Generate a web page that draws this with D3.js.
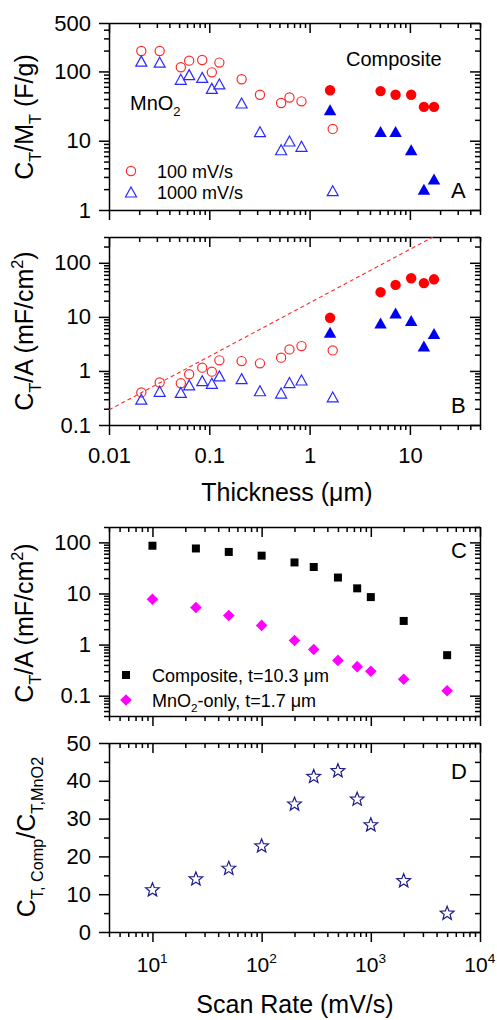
<!DOCTYPE html>
<html>
<head>
<meta charset="utf-8">
<script src="https://cdn.jsdelivr.net/npm/d3@7"></script>
<style>
  body { margin: 0; background: #fff; }
  text { font-family: "Liberation Sans", Arial, sans-serif; }
</style>
</head>
<body>
<script>
// thickness of the MnO2-only films and of the composite films (um)
var mno2Thick = [0.021, 0.032, 0.052, 0.063, 0.085, 0.106, 0.126, 0.21, 0.32, 0.52, 0.63, 0.83, 1.7];
var compThick = [1.6, 5.1, 7.2, 10.3, 13.8, 17.4];

// panel A : C_T / M_T (F/g)
var mno2Mass100 = [197, 197, 115, 143, 146, 97, 134, 77, 46, 35, 42, 37, 14.8];
var mno2Mass1000 = [141, 136, 77, 90, 82, 57, 66, 35, 13.5, 7.4, 9.9, 8.3, 1.9];
var compMass100 = [53.5, 52, 46, 46, 30.8, 30.8];
var compMass1000 = [28, 13.6, 13.6, 7.4, 2.0, 2.8];

// panel B : C_T / A (mF/cm2)
var mno2Area100 = [0.40, 0.61, 0.59, 0.87, 1.15, 0.97, 1.57, 1.52, 1.38, 1.76, 2.5, 2.88, 2.4];
var mno2Area1000 = [0.30, 0.42, 0.40, 0.55, 0.66, 0.59, 0.81, 0.72, 0.43, 0.39, 0.61, 0.68, 0.33];
var compArea100 = [9.6, 28.6, 39, 51.7, 42, 49.5];
var compArea1000 = [5.2, 7.7, 11.8, 8.6, 2.9, 4.9];
var refLineT = [0.01, 17];
var refLineC = [0.19, 300];

// panels C and D : vs scan rate (mV/s)
var scanRate = [10, 25, 50, 100, 200, 300, 500, 750, 1000, 2000, 5000];
var compRate = [86, 76, 65, 55, 40.5, 33, 20.5, 12.6, 8.5, 2.9, 0.62];
var mno2Rate = [7.7, 5.3, 3.7, 2.37, 1.2, 0.80, 0.49, 0.37, 0.30, 0.21, 0.125];
var ratio = [11.1, 14.0, 16.8, 22.7, 33.8, 41.1, 42.6, 35.1, 28.3, 13.5, 4.9];

var left = 109, right = 480,
    font = "'Liberation Sans', Arial, sans-serif";

var svg = d3.select("body").append("svg")
    .attr("width", 497)
    .attr("height", 1020);

var xThick = d3.scaleLog().domain([0.01, 50]).range([left, right]),
    xRate = d3.scaleLog().domain([4, 1e4]).range([left, right]);

var yA = d3.scaleLog().domain([1, 500]).range([210, 23]),
    yB = d3.scaleLog().domain([0.1, 300]).range([425, 237]),
    yC = d3.scaleLog().domain([0.04, 200]).range([716, 527]),
    yD = d3.scaleLinear().domain([0, 50]).range([932, 743]);

function isDecade(v) {
  var l = Math.log10(v);
  return Math.abs(l - Math.round(l)) < 1e-9;
}

function split(scale, extraMajor) {
  var t = scale.ticks(),
      major = t.filter(isDecade).concat(extraMajor || []),
      minor = t.filter(v => major.indexOf(v) < 0);
  return {major: major, minor: minor};
}

function styleAxis(g) {
  g.selectAll("path, line").attr("stroke", "#000").attr("stroke-width", 1.5);
  g.attr("font-family", font).attr("font-size", 22);
  g.selectAll("text").attr("fill", "#000");
}

function axisSet(axisFn, scale, ticks, pos, fmt, pad) {
  var gm = svg.append("g").attr("transform", pos)
      .call(axisFn(scale).tickValues(ticks.minor).tickSize(5).tickSizeOuter(0).tickFormat(""));
  gm.select(".domain").remove();
  styleAxis(gm);
  var gM = svg.append("g").attr("transform", pos)
      .call(axisFn(scale).tickValues(ticks.major).tickSize(10).tickSizeOuter(0)
        .tickPadding(pad || 3).tickFormat(fmt || ""));
  styleAxis(gM);
}

// ticks all point left / down: outward on left & bottom, inward on right & top
function frame(x, y, xt, yt, xFmt, yFmt) {
  var top = y.range()[1], bottom = y.range()[0];
  axisSet(d3.axisBottom, x, xt, "translate(0," + bottom + ")", xFmt, 12);
  axisSet(d3.axisBottom, x, xt, "translate(0," + top + ")");
  axisSet(d3.axisLeft, y, yt, "translate(" + left + ",0)", yFmt, 8);
  axisSet(d3.axisLeft, y, yt, "translate(" + right + ",0)");
}

var thickTicks = split(xThick),
    rateTicks = split(xRate);

frame(xThick, yA, thickTicks, split(yA, [500]), null, String);
frame(xThick, yB, thickTicks, split(yB), String, String);
frame(xRate, yC, rateTicks, split(yC), null, String);
frame(xRate, yD, rateTicks, {major: d3.range(0, 51, 10), minor: d3.range(5, 50, 10)}, null, String);

// rich text helper: parts = [text, mode] with mode -1 sub, 1 sup, 0 normal
function rich(sel, parts, size) {
  var shift = 0;
  parts.forEach(function(p) {
    var target = p[1] === -1 ? size * 0.3 : p[1] === 1 ? -size * 0.42 : 0;
    sel.append("tspan")
      .attr("dy", target - shift)
      .attr("font-size", p[1] ? size * 0.65 : size)
      .text(p[0]);
    shift = target;
  });
  return sel;
}

// x tick labels for scan rate as powers of ten
rateTicks.major.forEach(function(v) {
  var t = svg.append("text")
      .attr("x", xRate(v) - 4)
      .attr("y", 972)
      .attr("font-size", 21);
  rich(t, [["10", 0], [String(Math.round(Math.log10(v))), 1]], 21);
  t.attr("x", xRate(v) - 4 - 11.7);
});

// axis titles
function yTitle(x, y, parts) {
  var t = svg.append("text")
      .attr("transform", "translate(" + x + "," + y + ") rotate(-90)")
      .attr("text-anchor", "middle")
      .attr("font-size", 25);
  rich(t, parts, 25);
}
yTitle(33, 117, [["C", 0], ["T", -1], ["/M", 0], ["T", -1], [" (F/g)", 0]]);
yTitle(33, 331, [["C", 0], ["T", -1], ["/A (mF/cm", 0], ["2", 1], [")", 0]]);
yTitle(33, 623, [["C", 0], ["T", -1], ["/A (mF/cm", 0], ["2", 1], [")", 0]]);
yTitle(35, 837, [["C", 0], ["T, Comp", -1], ["/C", 0], ["T,MnO2", -1]]);

svg.append("text").attr("x", 287).attr("y", 501).attr("text-anchor", "middle")
  .attr("font-size", 25).text("Thickness (\u03bcm)");
svg.append("text").attr("x", 295).attr("y", 1013).attr("text-anchor", "middle")
  .attr("font-size", 25).text("Scan Rate (mV/s)");

// panel letters
[["A", 198], ["B", 413], ["C", 558], ["D", 779]].forEach(function(d) {
  svg.append("text").attr("x", 451).attr("y", d[1]).attr("font-size", 22).text(d[0]);
});

// marker shapes
function triPath(w, h) {
  return "M0," + (-h / 2) + "L" + (w / 2) + "," + (h / 2) + "L" + (-w / 2) + "," + (h / 2) + "Z";
}
function starPath(ro, ri) {
  var pts = d3.range(10).map(function(i) {
    var a = -Math.PI / 2 + i * Math.PI / 5, r = i % 2 ? ri : ro;
    return [r * Math.cos(a), r * Math.sin(a)];
  });
  return "M" + pts.join("L") + "Z";
}

function points(xs, ys, x, y, shape) {
  var g = svg.append("g");
  var sel = g.selectAll(null).data(xs.map((v, i) => [v, ys[i]])).enter();
  var m;
  if (shape.circle) {
    m = sel.append("circle").attr("cx", d => x(d[0])).attr("cy", d => y(d[1])).attr("r", shape.r);
  } else {
    m = sel.append("path").attr("transform", d => "translate(" + x(d[0]) + "," + y(d[1]) + ")").attr("d", shape.d);
  }
  m.attr("fill", shape.fill || "none")
   .attr("stroke", shape.stroke || "none")
   .attr("stroke-width", 1.2);
}

var openCircle = {circle: true, r: 4.6, stroke: "#ff2a2a"},
    openTri = {d: triPath(11, 10), stroke: "#2a2aff"},
    fullCircle = {circle: true, r: 5.2, fill: "#ff0000"},
    fullTri = {d: triPath(12.5, 11), fill: "#0000f0"},
    square = {d: "M-4,-4H4V4H-4Z", fill: "#000"},
    diamond = {d: "M0,-5.8L5.8,0L0,5.8L-5.8,0Z", fill: "#ff00ff"},
    star = {d: starPath(7.2, 3.1), stroke: "#1c1c8a"};

// panel A
points(mno2Thick, mno2Mass100, xThick, yA, openCircle);
points(mno2Thick, mno2Mass1000, xThick, yA, openTri);
points(compThick, compMass100, xThick, yA, fullCircle);
points(compThick, compMass1000, xThick, yA, fullTri);

// panel B with reference slope-1 line
svg.append("clipPath").attr("id", "clipB").append("rect")
  .attr("x", left).attr("y", 237).attr("width", right - left).attr("height", 425 - 237);
svg.append("path")
  .attr("clip-path", "url(#clipB)")
  .attr("d", d3.line().x(d => xThick(d[0])).y(d => yB(d[1]))(refLineT.map((t, i) => [t, refLineC[i]])))
  .attr("fill", "none").attr("stroke", "#ff2a2a").attr("stroke-width", 1.1)
  .attr("stroke-dasharray", "4,3");
points(mno2Thick, mno2Area100, xThick, yB, openCircle);
points(mno2Thick, mno2Area1000, xThick, yB, openTri);
points(compThick, compArea100, xThick, yB, fullCircle);
points(compThick, compArea1000, xThick, yB, fullTri);

// panel C, D
points(scanRate, compRate, xRate, yC, square);
points(scanRate, mno2Rate, xRate, yC, diamond);
points(scanRate, ratio, xRate, yD, star);

// annotations and legends
svg.append("text").attr("x", 346).attr("y", 66).attr("font-size", 20).text("Composite");
rich(svg.append("text").attr("x", 130).attr("y", 110), [["MnO", 0], ["2", -1]], 20);

function legendItem(shape, cx, cy, parts) {
  var g = svg.append("g").attr("transform", "translate(" + cx + "," + cy + ")");
  if (shape.circle) g.append("circle").attr("r", shape.r);
  else g.append("path").attr("d", shape.d);
  g.select("*").attr("fill", shape.fill || "none").attr("stroke", shape.stroke || "none").attr("stroke-width", 1.2);
  rich(svg.append("text").attr("x", cx + 26).attr("y", cy + 6.5), parts, 18);
}
legendItem(openCircle, 131, 171, [["100 mV/s", 0]]);
legendItem(openTri, 131, 192, [["1000 mV/s", 0]]);
legendItem(square, 126, 675, [["Composite, t=10.3 \u03bcm", 0]]);
legendItem(diamond, 126, 700, [["MnO", 0], ["2", -1], ["-only, t=1.7 \u03bcm", 0]]);
</script>
</body>
</html>
